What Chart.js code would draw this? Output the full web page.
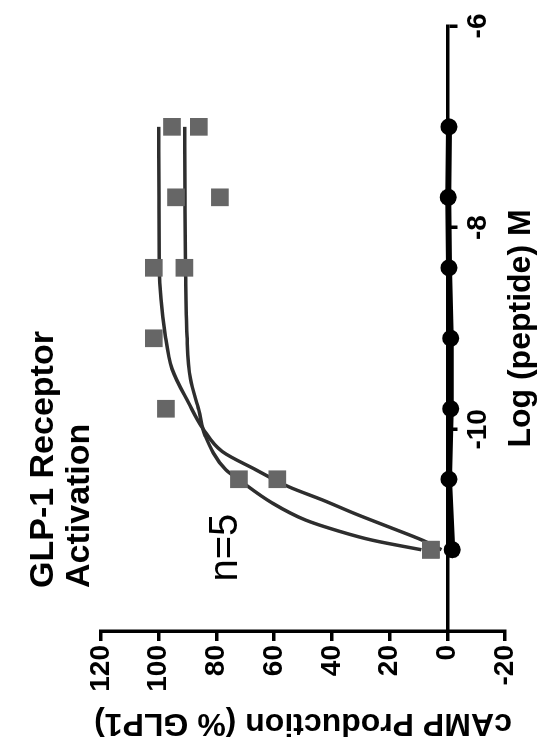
<!DOCTYPE html>
<html><head><meta charset="utf-8">
<script src="https://cdn.jsdelivr.net/npm/chart.js@4/dist/chart.umd.min.js"></script>
<style>
html,body{margin:0;padding:0;background:#fff;overflow:hidden;width:544px;height:744px;}
#wrap{position:absolute;left:0;top:0;width:744px;height:544px;transform-origin:0 0;transform:translate(0,744px) rotate(-90deg);}
canvas{display:block;}
</style></head><body>
<div id="wrap"><canvas id="c" width="744" height="544"></canvas></div>
<script>
// ---- text ----
const titleLines = ['GLP-1 Receptor', 'Activation'];
const xAxisTitle = 'Log (peptide) M';
const yAxisTitle = 'cAMP Production (% GLP1)';
const nLabel = 'n=5';

// ---- tick labels ----
const xTicks = [-10, -8, -6];
const xTickLabels = ['-10', '-8', '-6'];
const yTicks = [-20, 0, 20, 40, 60, 80, 100, 120];
const yTickLabels = ['-20', '0', '20', '40', '60', '80', '100', '120'];

// ---- measured points (log M) ----
const doses = [-11.194, -10.495, -9.796, -9.097, -8.398, -7.699, -7.0];
const squaresA = [5.7, 58.9, 97.5, 101.7, 101.7, 94.0, 95.4];
const squaresB = [5.7, 72.2, null, null, 91.1, 78.8, 86.1];
const circles = [-1.7, -0.6, -1.2, -1.2, -0.6, -0.35, -0.6];

// ---- fitted curves ----
const fitA_x = [-11.194, -11.1, -10.97, -10.84, -10.7, -10.57, -10.4, -10.22, -10.0, -9.74, -9.4, -9.07, -8.4, -7.7, -7.0];
const fitA_y = [2, 8.6, 20.1, 31.7, 43.3, 54.9, 66.4, 78.0, 84.5, 89.6, 95.4, 97.7, 99.8, 99.9, 100.0];
const fitB_x = [-11.194, -11.1, -11.01, -10.9, -10.73, -10.5, -10.4, -10.07, -9.81, -9.5, -9.07, -8.4, -7.7, -7.0];
const fitB_y = [9, 25.9, 37.5, 49.1, 60.7, 72.2, 76.8, 83.8, 86.1, 89.0, 90.2, 90.7, 90.9, 91.0];

// annotation anchor (data coords)
const nAnchor = {x: -11.51, y: 72.8};

const pts = (xs, ys) => xs.map((x, i) => ({x: x, y: ys[i]}));
const FONT = '"Liberation Sans", Arial, sans-serif';

const annot = {
  id: 'annot',
  afterDraw(chart) {
    const {ctx, chartArea, scales} = chart;
    ctx.save();
    ctx.fillStyle = '#000';
    ctx.font = 'bold 34px ' + FONT;
    ctx.textAlign = 'left';
    ctx.textBaseline = 'middle';
    titleLines.forEach((t, i) => ctx.fillText(t, chartArea.left + 43, 44 + i * 36));
    ctx.font = '40px "Liberation Sans Narrow", ' + FONT;
    ctx.textBaseline = 'alphabetic';
    ctx.fillText(nLabel, scales.x.getPixelForValue(nAnchor.x), scales.y.getPixelForValue(nAnchor.y));
    ctx.restore();
  }
};

new Chart(document.getElementById('c'), {
  type: 'scatter',
  data: {
    datasets: [
      {data: pts(fitA_x, fitA_y), showLine: true, pointRadius: 0, borderColor: '#2e2e2e', borderWidth: 3.5, cubicInterpolationMode: 'monotone', order: 3},
      {data: pts(fitB_x, fitB_y), showLine: true, pointRadius: 0, borderColor: '#2e2e2e', borderWidth: 3.5, cubicInterpolationMode: 'monotone', order: 3},
      {data: pts(doses, squaresA), pointStyle: 'rect', pointRadius: 12.5, backgroundColor: '#666', borderWidth: 0, order: 1},
      {data: pts(doses, squaresB), pointStyle: 'rect', pointRadius: 12.5, backgroundColor: '#666', borderWidth: 0, order: 1},
      {data: pts(doses, circles), showLine: true, borderColor: '#000', borderWidth: 6, tension: 0, pointStyle: 'circle', pointRadius: 8.5, backgroundColor: '#000', pointBorderWidth: 0, order: 2}
    ]
  },
  options: {
    responsive: false,
    animation: false,
    devicePixelRatio: 1,
    layout: {padding: {left: 0, top: 101, right: 26, bottom: 39}},
    plugins: {legend: {display: false}, tooltip: {enabled: false}, title: {display: false}},
    scales: {
      x: {
        type: 'linear', min: -12, max: -6,
        position: {y: 0},
        afterBuildTicks: s => { s.ticks = xTicks.map(v => ({value: v})); },
        afterFit: s => { s.height = 0; },
        grid: {display: true, drawOnChartArea: false, drawTicks: true, tickLength: 8, color: '#000', lineWidth: 3.5},
        border: {display: true, color: '#000', width: 3.5},
        ticks: {padding: 6, color: '#000', font: {family: FONT, size: 28, weight: 'bold', lineHeight: 1.2},
                maxRotation: 0, autoSkip: false,
                callback: v => xTickLabels[xTicks.indexOf(v)]},
        title: {display: true, text: xAxisTitle, color: '#000', font: {family: FONT, size: 32, weight: 'bold', lineHeight: 1.2},
                padding: {top: 0, bottom: -92.7}}
      },
      y: {
        type: 'linear', min: -20, max: 120, position: 'left',
        afterBuildTicks: s => { s.ticks = yTicks.map(v => ({value: v})); },
        afterFit: s => { s.width = 113; },
        grid: {display: true, drawOnChartArea: false, drawTicks: true, tickLength: 10, color: '#000', lineWidth: 3.5},
        border: {display: true, color: '#000', width: 3.5},
        ticks: {padding: 4, color: '#000', font: {family: FONT, size: 28, weight: 'bold', lineHeight: 1.2},
                autoSkip: false, callback: v => yTickLabels[yTicks.indexOf(v)]},
        title: {display: true, text: yAxisTitle, color: '#000', font: {family: FONT, size: 32, weight: 'bold', lineHeight: 1.2},
                padding: {top: 2, bottom: 0}}
      }
    }
  },
  plugins: [annot]
});
</script>
</body></html>
